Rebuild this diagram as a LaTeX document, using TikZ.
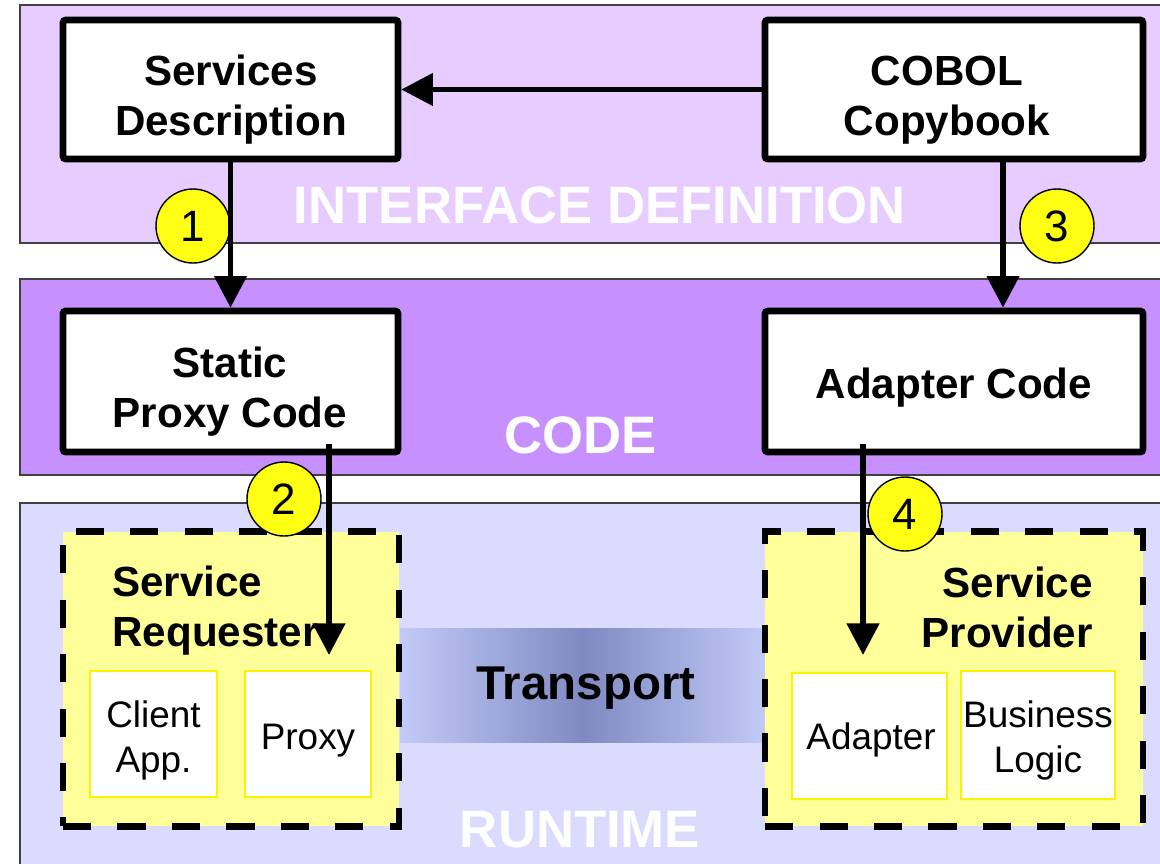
\documentclass[tikz,border=0pt]{standalone}
\usepackage{fontspec}
\setmainfont{Liberation Sans}
\usetikzlibrary{arrows.meta,calc}
\definecolor{ifcol}{RGB}{230,204,255}
\definecolor{codecol}{RGB}{198,144,255}
\definecolor{runcol}{RGB}{219,219,255}
\definecolor{roleyellow}{RGB}{255,255,153}
\definecolor{tlight}{RGB}{194,202,248}
\definecolor{tdark}{RGB}{128,138,194}
\definecolor{numyellow}{RGB}{255,255,20}
\begin{document}
\begin{tikzpicture}[x=0.02cm,y=-0.02cm,
  band/.style={draw=black!75, line width=0.7pt},
  box/.style={draw, line width=3.8pt, fill=white, rounded corners=1.5pt, inner sep=0pt},
  boxtext/.style={font=\fontsize{24}{28.5}\selectfont\bfseries, align=center, inner sep=0pt},
  bandlabel/.style={text=white, font=\fontsize{30}{36}\selectfont\bfseries, anchor=base, inner sep=0pt},
  flow/.style={line width=3.2pt, -{Triangle[width=18pt,length=18pt]}},
  num/.style={circle, draw, line width=0.8pt, fill=numyellow, minimum size=1.48cm, inner sep=0pt, font=\fontsize{25}{30}\selectfont},
  role/.style={draw, dash pattern=on 16pt off 15pt, line width=3.8pt, fill=roleyellow, inner sep=0pt},
  part/.style={draw=yellow, line width=0.8pt, fill=white, inner sep=0pt},
  parttext/.style={font=\fontsize{21}{25.6}\selectfont, align=center, inner sep=0pt}
]
\useasboundingbox (0,0) rectangle (1160,863);
% bands
\draw[band, fill=ifcol] (20,5) rectangle (1168,243);
\draw[band, fill=codecol] (20,279) rectangle (1168,475);
\draw[band, fill=runcol] (20,503) rectangle (1168,880);
\node[bandlabel] (lif) at (600,223) {INTERFACE DEFINITION};
\node[bandlabel] (lcode) at (581,453) {CODE};
\node[bandlabel] (lrun) at (580,847) {RUNTIME};
% transport
\fill[left color=tlight, right color=tdark] (400,628) rectangle (583,742);
\fill[left color=tdark, right color=tlight] (583,628) rectangle (765,742);
\node[font=\fontsize{27}{32}\selectfont\bfseries, inner sep=0pt] (tr) at (586,688) {Transport};
% top boxes
\node[box, minimum width=6.7cm, minimum height=2.78cm] (sd) at (230.5,89.5) {};
\node[boxtext] (sdt) at (231,99.5) {Services\\Description};
\node[box, minimum width=7.56cm, minimum height=2.78cm] (cb) at (954,89.5) {};
\node[boxtext] (cbt) at (947,100) {COBOL\\Copybook};
\node[box, minimum width=6.7cm, minimum height=2.82cm] (spc) at (230.5,381.5) {};
\node[boxtext] (spct) at (230,392) {Static\\Proxy Code};
\node[box, minimum width=7.56cm, minimum height=2.82cm] (ac) at (954,381.5) {};
\node[boxtext] (act) at (954,388) {Adapter Code};
% role boxes
\node[role, minimum width=6.72cm, minimum height=5.9cm] (req) at (231,679) {};
\node[role, minimum width=7.56cm, minimum height=5.9cm] (prov) at (954,679) {};
\node[boxtext, align=left, anchor=west] (reqt) at (112,611) {Service\\Requester};
\node[boxtext, align=right, anchor=east] (provt) at (1093,607) {Service\\Provider};
\node[part, minimum width=2.54cm, minimum height=2.52cm] (client) at (153.5,734) {};
\node[parttext] (clientt) at (153.5,740) {Client\\App.};
\node[part, minimum width=2.52cm, minimum height=2.52cm] (proxy) at (308,734) {};
\node[parttext] (proxyt) at (308,741) {Proxy};
\node[part, minimum width=3.1cm, minimum height=2.52cm] (adapter) at (869.5,736) {};
\node[parttext] (adaptert) at (871,740) {Adapter};
\node[part, minimum width=3.08cm, minimum height=2.56cm] (bl) at (1038,735) {};
\node[parttext] (blt) at (1038,740) {Business\\Logic};
% numbers
\node[num] (n1) at (193,226) {1};
\node[num] (n3) at (1057,226) {3};
\node[num] (n2) at (284,499) {2};
\node[num] (n4) at (905,514) {4};
% connectors
\coordinate (c3) at (1003,0);
\coordinate (a2s) at (329,444);
\coordinate (a2e) at (329,655);
\coordinate (a4s) at (863,444);
\coordinate (a4e) at (863,655);
\draw[flow] (cb.west) -- (sd.east);
\draw[flow] (sd.south) -- (spc.north);
\draw[flow] (cb.south -| c3) -- (ac.north -| c3);
\draw[flow] (a2s) -- (a2e);
\draw[flow] (a4s) -- (a4e);
\end{tikzpicture}
\end{document}
